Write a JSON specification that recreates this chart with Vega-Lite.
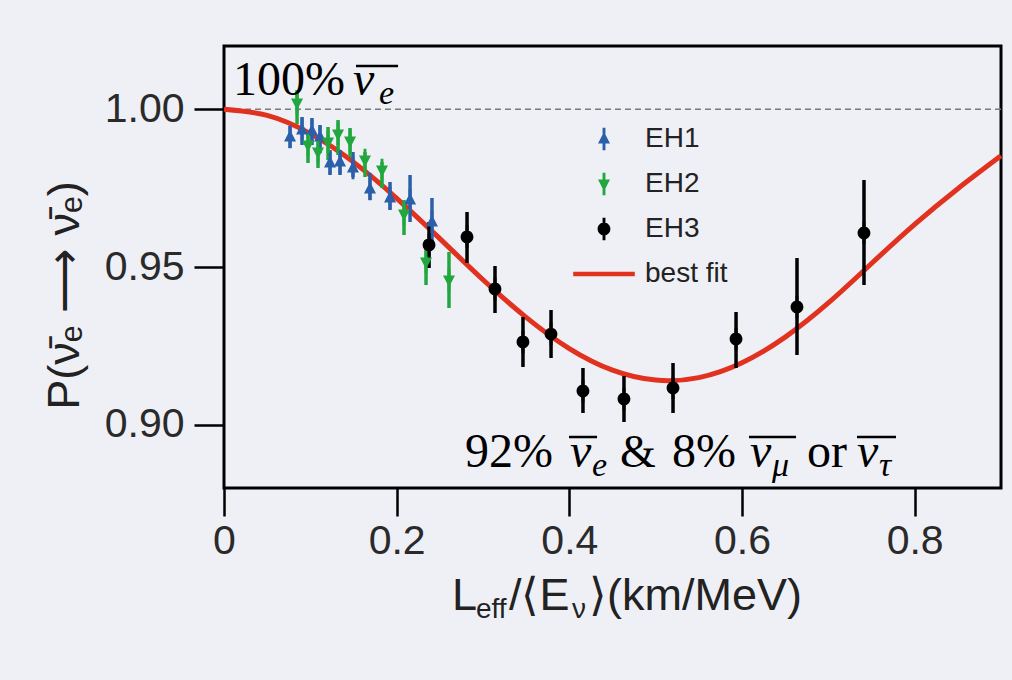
{
  "$schema": "https://vega.github.io/schema/vega-lite/v6.json",
  "width": 777,
  "height": 442,
  "autosize": {"type": "none"},
  "padding": {"left": 224, "top": 46, "right": 11, "bottom": 192},
  "background": "#eff0f6",
  "config": {
    "view": {"stroke": "#000000", "strokeWidth": 3},
    "font": "Liberation Sans",
    "axis": {
      "grid": false, "domain": false, "tickWidth": 2.5, "tickColor": "#000000",
      "labelFont": "Liberation Sans", "labelFontSize": 41, "labelColor": "#2a2a2a", "labelFlush": false
    },
    "axisX": {"tickSize": 28, "labelPadding": 5},
    "axisY": {"tickSize": 30, "labelPadding": 10},
    "legend": {
      "orient": "none", "legendX": 366, "legendY": 79, "title": null,
      "labelFont": "Liberation Sans", "labelFontSize": 28, "labelColor": "#222222",
      "symbolSize": 256, "rowPadding": 17, "labelOffset": 27, "padding": 0,
      "symbolStrokeWidth": 0, "symbolOpacity": 1
    }
  },
  "datasets": {
    "one": [{}],
    "pts": [
      {"hall": "EH1", "x": 0.0765, "y": 0.99117, "lo": 0.98769, "hi": 0.99466},
      {"hall": "EH1", "x": 0.0904, "y": 0.99339, "lo": 0.98864, "hi": 0.99751},
      {"hall": "EH1", "x": 0.1019, "y": 0.99308, "lo": 0.98864, "hi": 0.99719},
      {"hall": "EH1", "x": 0.1112, "y": 0.99117, "lo": 0.98611, "hi": 0.99498},
      {"hall": "EH1", "x": 0.1228, "y": 0.98294, "lo": 0.97914, "hi": 0.98706},
      {"hall": "EH1", "x": 0.1344, "y": 0.98326, "lo": 0.97914, "hi": 0.98706},
      {"hall": "EH1", "x": 0.1494, "y": 0.98136, "lo": 0.9785, "hi": 0.98642},
      {"hall": "EH1", "x": 0.1691, "y": 0.9747, "lo": 0.97122, "hi": 0.97977},
      {"hall": "EH1", "x": 0.1923, "y": 0.97185, "lo": 0.96805, "hi": 0.97692},
      {"hall": "EH1", "x": 0.2155, "y": 0.97122, "lo": 0.96425, "hi": 0.97914},
      {"hall": "EH1", "x": 0.2409, "y": 0.96425, "lo": 0.95697, "hi": 0.97185},
      {"hall": "EH2", "x": 0.0846, "y": 1.00195, "lo": 0.99529, "hi": 1.00606},
      {"hall": "EH2", "x": 0.0973, "y": 0.98864, "lo": 0.98294, "hi": 0.99276},
      {"hall": "EH2", "x": 0.1089, "y": 0.98642, "lo": 0.98136, "hi": 0.99086},
      {"hall": "EH2", "x": 0.1205, "y": 0.98959, "lo": 0.98389, "hi": 0.99434},
      {"hall": "EH2", "x": 0.1321, "y": 0.99213, "lo": 0.98547, "hi": 0.99656},
      {"hall": "EH2", "x": 0.146, "y": 0.98991, "lo": 0.98484, "hi": 0.99403},
      {"hall": "EH2", "x": 0.1633, "y": 0.98389, "lo": 0.9785, "hi": 0.98642},
      {"hall": "EH2", "x": 0.183, "y": 0.98072, "lo": 0.97502, "hi": 0.98326},
      {"hall": "EH2", "x": 0.2085, "y": 0.96678, "lo": 0.96013, "hi": 0.97122},
      {"hall": "EH2", "x": 0.234, "y": 0.95158, "lo": 0.9443, "hi": 0.95855},
      {"hall": "EH2", "x": 0.2606, "y": 0.94588, "lo": 0.93701, "hi": 0.95475},
      {"hall": "EH3", "x": 0.2375, "y": 0.95697, "lo": 0.94968, "hi": 0.96425},
      {"hall": "EH3", "x": 0.2815, "y": 0.9595, "lo": 0.95126, "hi": 0.96742},
      {"hall": "EH3", "x": 0.3139, "y": 0.94303, "lo": 0.93543, "hi": 0.95031},
      {"hall": "EH3", "x": 0.3463, "y": 0.92624, "lo": 0.91832, "hi": 0.93416},
      {"hall": "EH3", "x": 0.3788, "y": 0.92877, "lo": 0.92117, "hi": 0.93638},
      {"hall": "EH3", "x": 0.4158, "y": 0.91072, "lo": 0.90375, "hi": 0.91801},
      {"hall": "EH3", "x": 0.4633, "y": 0.90819, "lo": 0.9009, "hi": 0.91547},
      {"hall": "EH3", "x": 0.5201, "y": 0.91167, "lo": 0.90375, "hi": 0.91959},
      {"hall": "EH3", "x": 0.5931, "y": 0.92719, "lo": 0.918, "hi": 0.93574},
      {"hall": "EH3", "x": 0.6637, "y": 0.93733, "lo": 0.92212, "hi": 0.95285},
      {"hall": "EH3", "x": 0.7413, "y": 0.96077, "lo": 0.9443, "hi": 0.97755}
    ],
    "fit": [
      {"x": 0, "p": 1.0},
      {"x": 0.05, "p": 0.998},
      {"x": 0.1, "p": 0.99224},
      {"x": 0.15, "p": 0.98322},
      {"x": 0.2, "p": 0.97177},
      {"x": 0.25, "p": 0.95899},
      {"x": 0.3, "p": 0.94596},
      {"x": 0.35, "p": 0.93405},
      {"x": 0.4, "p": 0.92416},
      {"x": 0.45, "p": 0.91732},
      {"x": 0.5, "p": 0.91418},
      {"x": 0.55, "p": 0.91497},
      {"x": 0.6, "p": 0.91967},
      {"x": 0.65, "p": 0.9278},
      {"x": 0.7, "p": 0.93862},
      {"x": 0.75, "p": 0.95111},
      {"x": 0.8, "p": 0.9635},
      {"x": 0.85, "p": 0.9748},
      {"x": 0.9, "p": 0.9852}
    ]
  },
  "data": {"name": "one"},
  "layer": [
    {
      "mark": {"type": "rule", "color": "#7a7a7a", "strokeDash": [6, 4], "strokeWidth": 1.5},
      "encoding": {
        "y": {"datum": 1, "type": "quantitative"}
      }
    },
    {
      "data": {"name": "fit"},
      "mark": {"type": "line", "color": "#e0321f", "strokeWidth": 5, "interpolate": "natural"},
      "encoding": {
        "x": {
          "field": "x", "type": "quantitative",
          "scale": {"domain": [0, 0.9], "nice": false, "zero": false},
          "axis": {"title": null, "values": [0, 0.2, 0.4, 0.6, 0.8], "format": "~g"}
        },
        "y": {
          "field": "p", "type": "quantitative",
          "scale": {"domain": [0.88, 1.02], "nice": false, "zero": false},
          "axis": {
            "values": [0.9, 0.95, 1.0], "format": ".2f",
            "title": "P(\u03bd\u0304\u2091 \u27f6 \u03bd\u0304\u2091)",
            "titleFont": "Liberation Sans", "titleFontSize": 45, "titleFontWeight": "normal", "titleColor": "#222222",
            "titleAngle": 270, "titleX": -160, "titleY": 249, "titleAlign": "center", "titleBaseline": "middle"
          }
        }
      }
    },
    {
      "data": {"name": "pts"},
      "mark": {"type": "rule", "strokeWidth": 3.5},
      "encoding": {
        "x": {"field": "x", "type": "quantitative"},
        "y": {"field": "lo", "type": "quantitative"},
        "y2": {"field": "hi"},
        "color": {
          "field": "hall", "type": "nominal",
          "scale": {"domain": ["EH1", "EH2", "EH3", "best fit"], "range": ["#2b5faa", "#22a73f", "#000000", "#e0321f"]}
        }
      }
    },
    {
      "data": {"name": "pts"},
      "mark": {"type": "point", "filled": true, "opacity": 1, "size": 256},
      "encoding": {
        "x": {"field": "x", "type": "quantitative"},
        "y": {"field": "y", "type": "quantitative"},
        "color": {
          "field": "hall", "type": "nominal",
          "scale": {"domain": ["EH1", "EH2", "EH3", "best fit"], "range": ["#2b5faa", "#22a73f", "#000000", "#e0321f"]}
        },
        "shape": {
          "field": "hall", "type": "nominal",
          "scale": {
            "domain": ["EH1", "EH2", "EH3", "best fit"],
            "range": [
              "M0,-0.9L0.75,0.55L-0.75,0.55Z M-0.18,-1.4L0.18,-1.4L0.18,1.4L-0.18,1.4Z",
              "M0,0.9L-0.75,-0.55L0.75,-0.55Z M-0.18,-1.4L0.18,-1.4L0.18,1.4L-0.18,1.4Z",
              "M-0.8,0A0.8,0.8,0,1,1,0.8,0A0.8,0.8,0,1,1,-0.8,0Z M-0.18,-1.4L0.18,-1.4L0.18,1.4L-0.18,1.4Z",
              "M-3.85,-0.28L3.85,-0.28L3.85,0.28L-3.85,0.28Z"
            ]
          }
        }
      }
    },
    {
      "mark": {"type": "text", "text": "100%", "font": "Liberation Serif", "fontSize": 48, "align": "left", "baseline": "alphabetic", "color": "#000000"},
      "encoding": {"x": {"datum": 0.0104, "type": "quantitative"}, "y": {"datum": 1.00448, "type": "quantitative"}}
    },
    {
      "mark": {"type": "text", "text": "\u03bd", "font": "Liberation Serif", "fontStyle": "italic", "fontSize": 48, "align": "left", "baseline": "alphabetic", "color": "#000000"},
      "encoding": {"x": {"datum": 0.1494, "type": "quantitative"}, "y": {"datum": 1.00448, "type": "quantitative"}}
    },
    {
      "mark": {"type": "text", "text": "e", "font": "Liberation Serif", "fontStyle": "italic", "fontSize": 34, "align": "left", "baseline": "alphabetic", "color": "#000000"},
      "encoding": {"x": {"datum": 0.1795, "type": "quantitative"}, "y": {"datum": 1.00163, "type": "quantitative"}}
    },
    {
      "mark": {"type": "rule", "color": "#000000", "strokeWidth": 2.5},
      "encoding": {"x": {"datum": 0.1529, "type": "quantitative"}, "x2": {"datum": 0.2016}, "y": {"datum": 1.01367, "type": "quantitative"}}
    },
    {
      "mark": {"type": "text", "text": "92%", "font": "Liberation Serif", "fontSize": 48, "align": "left", "baseline": "alphabetic", "color": "#000000"},
      "encoding": {"x": {"datum": 0.2792, "type": "quantitative"}, "y": {"datum": 0.88666, "type": "quantitative"}}
    },
    {
      "mark": {"type": "text", "text": "\u03bd", "font": "Liberation Serif", "fontStyle": "italic", "fontSize": 48, "align": "left", "baseline": "alphabetic", "color": "#000000"},
      "encoding": {"x": {"datum": 0.4008, "type": "quantitative"}, "y": {"datum": 0.88666, "type": "quantitative"}}
    },
    {
      "mark": {"type": "text", "text": "e", "font": "Liberation Serif", "fontStyle": "italic", "fontSize": 34, "align": "left", "baseline": "alphabetic", "color": "#000000"},
      "encoding": {"x": {"datum": 0.4263, "type": "quantitative"}, "y": {"datum": 0.88381, "type": "quantitative"}}
    },
    {
      "mark": {"type": "text", "text": "&", "font": "Liberation Serif", "fontSize": 46, "align": "left", "baseline": "alphabetic", "color": "#000000"},
      "encoding": {"x": {"datum": 0.4588, "type": "quantitative"}, "y": {"datum": 0.88666, "type": "quantitative"}}
    },
    {
      "mark": {"type": "text", "text": "8%", "font": "Liberation Serif", "fontSize": 48, "align": "left", "baseline": "alphabetic", "color": "#000000"},
      "encoding": {"x": {"datum": 0.5189, "type": "quantitative"}, "y": {"datum": 0.88666, "type": "quantitative"}}
    },
    {
      "mark": {"type": "text", "text": "\u03bd", "font": "Liberation Serif", "fontStyle": "italic", "fontSize": 48, "align": "left", "baseline": "alphabetic", "color": "#000000"},
      "encoding": {"x": {"datum": 0.6093, "type": "quantitative"}, "y": {"datum": 0.88666, "type": "quantitative"}}
    },
    {
      "mark": {"type": "text", "text": "\u03bc", "font": "Liberation Serif", "fontStyle": "italic", "fontSize": 34, "align": "left", "baseline": "alphabetic", "color": "#000000"},
      "encoding": {"x": {"datum": 0.6348, "type": "quantitative"}, "y": {"datum": 0.88381, "type": "quantitative"}}
    },
    {
      "mark": {"type": "text", "text": "or", "font": "Liberation Serif", "fontSize": 48, "align": "left", "baseline": "alphabetic", "color": "#000000"},
      "encoding": {"x": {"datum": 0.6753, "type": "quantitative"}, "y": {"datum": 0.88666, "type": "quantitative"}}
    },
    {
      "mark": {"type": "text", "text": "\u03bd", "font": "Liberation Serif", "fontStyle": "italic", "fontSize": 48, "align": "left", "baseline": "alphabetic", "color": "#000000"},
      "encoding": {"x": {"datum": 0.7332, "type": "quantitative"}, "y": {"datum": 0.88666, "type": "quantitative"}}
    },
    {
      "mark": {"type": "text", "text": "\u03c4", "font": "Liberation Serif", "fontStyle": "italic", "fontSize": 34, "align": "left", "baseline": "alphabetic", "color": "#000000"},
      "encoding": {"x": {"datum": 0.7587, "type": "quantitative"}, "y": {"datum": 0.88381, "type": "quantitative"}}
    },
    {
      "mark": {"type": "rule", "color": "#000000", "strokeWidth": 2.5},
      "encoding": {"x": {"datum": 0.3996, "type": "quantitative"}, "x2": {"datum": 0.4321}, "y": {"datum": 0.89615, "type": "quantitative"}}
    },
    {
      "mark": {"type": "rule", "color": "#000000", "strokeWidth": 2.5},
      "encoding": {"x": {"datum": 0.6081, "type": "quantitative"}, "x2": {"datum": 0.6626}, "y": {"datum": 0.89615, "type": "quantitative"}}
    },
    {
      "mark": {"type": "rule", "color": "#000000", "strokeWidth": 2.5},
      "encoding": {"x": {"datum": 0.7332, "type": "quantitative"}, "x2": {"datum": 0.7784}, "y": {"datum": 0.89615, "type": "quantitative"}}
    },
    {
      "mark": {"type": "text", "text": "L", "font": "Liberation Sans", "fontSize": 45, "align": "left", "baseline": "alphabetic", "color": "#222222"},
      "encoding": {"x": {"datum": 0.2641, "type": "quantitative"}, "y": {"datum": 0.84135, "type": "quantitative"}}
    },
    {
      "mark": {"type": "text", "text": "eff", "font": "Liberation Sans", "fontSize": 28, "align": "left", "baseline": "alphabetic", "color": "#222222"},
      "encoding": {"x": {"datum": 0.2919, "type": "quantitative"}, "y": {"datum": 0.83881, "type": "quantitative"}}
    },
    {
      "mark": {"type": "text", "text": "/\u27e8E", "font": "Liberation Sans", "fontSize": 45, "align": "left", "baseline": "alphabetic", "color": "#222222"},
      "encoding": {"x": {"datum": 0.3301, "type": "quantitative"}, "y": {"datum": 0.84135, "type": "quantitative"}}
    },
    {
      "mark": {"type": "text", "text": "\u03bd", "font": "Liberation Sans", "fontSize": 28, "align": "left", "baseline": "alphabetic", "color": "#222222"},
      "encoding": {"x": {"datum": 0.4031, "type": "quantitative"}, "y": {"datum": 0.83881, "type": "quantitative"}}
    },
    {
      "mark": {"type": "text", "text": "\u27e9(km/MeV)", "font": "Liberation Sans", "fontSize": 45, "align": "left", "baseline": "alphabetic", "color": "#222222"},
      "encoding": {"x": {"datum": 0.4228, "type": "quantitative"}, "y": {"datum": 0.84135, "type": "quantitative"}}
    }
  ]
}
